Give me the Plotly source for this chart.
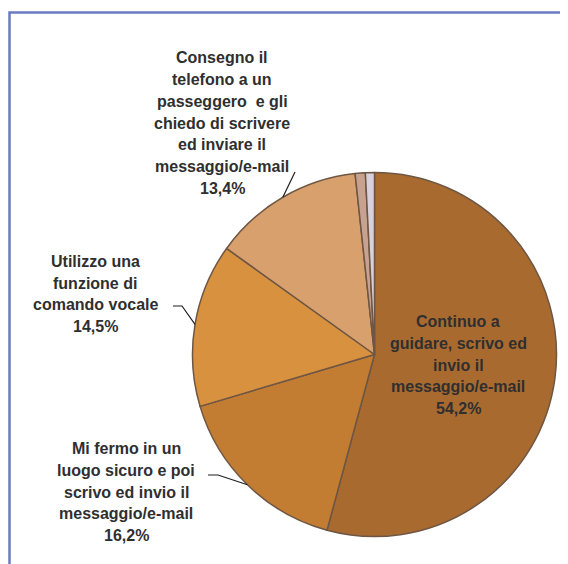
import math
import plotly.graph_objects as go

# ---- data ----
labels = [
    "Continuo a<br>guidare, scrivo ed<br>invio il<br>messaggio/e-mail",
    "Mi fermo in un<br>luogo sicuro e poi<br>scrivo ed invio il<br>messaggio/e-mail",
    "Utilizzo una<br>funzione di<br>comando vocale",
    "Consegno il<br>telefono a un<br>passeggero  e gli<br>chiedo di scrivere<br>ed inviare il<br>messaggio/e-mail",
    "Altro 1",
    "Altro 2",
]
values = [54.2, 16.2, 14.5, 13.4, 0.9, 0.8]
value_text = ["54,2%", "16,2%", "14,5%", "13,4%", "", ""]
colors = ["#A96A2F", "#C27D33", "#D8913F", "#D8A06C", "#C8A290", "#D8D0DA"]

OFF = 8  # page body margin
W, H = 568 - OFF, 564 - OFF
CX, CY, R = 374.5, 354.5, 182
LINE_H = 21.7

def px(x):
    return (x - OFF) / W

def py(y):
    return 1 - (y - OFF) / H

fig = go.Figure(go.Pie(
    values=values,
    labels=[f"s{i}" for i in range(len(values))],
    sort=False,
    direction="clockwise",
    rotation=0,
    textinfo="none",
    hoverinfo="skip",
    marker=dict(colors=colors, line=dict(color="#6e5644", width=1.5)),
    domain=dict(x=[px(CX - R), px(CX + R)], y=[py(CY + R), py(CY - R)]),
    showlegend=False,
))

# label placement (pixel centres) for the four main slices
label_pos = [(458, 365), (126, 492), (95, 294), (222, 123)]
font = dict(family="Liberation Sans, Arial, sans-serif", size=16, color="#2f2f2f", weight="bold")

annotations = []
for i in range(4):
    x, y = label_pos[i]
    lines = labels[i].split("<br>") + [value_text[i]]
    n = len(lines)
    for k, ln in enumerate(lines):
        yy = y + (k - (n - 1) / 2) * LINE_H
        annotations.append(dict(
            x=px(x), y=py(yy), xref="paper", yref="paper",
            text=ln,
            showarrow=False, xanchor="center", yanchor="middle", align="center",
            font=font,
        ))

# leader lines from slice mid-angle edge points
total = sum(values)
cum = 0
mids = []
for v in values:
    mids.append((cum + v / 2) / total * 360)
    cum += v

def edge(i):
    a = math.radians(mids[i])
    return CX + R * math.sin(a), CY - R * math.cos(a)

leader_paths = {
    1: [(218, 475), (208, 475)],
    2: [(182, 306), (173, 306)],
    3: [(295, 172)],
}
shapes = []
for i, pts in leader_paths.items():
    ex, ey = edge(i)
    allp = [(ex, ey)] + pts
    path = "M " + " L ".join(f"{px(x)},{py(y)}" for x, y in allp)
    shapes.append(dict(type="path", xref="paper", yref="paper", path=path,
                       line=dict(color="#1e1e1e", width=1.2)))

# frame
shapes.append(dict(type="rect", xref="paper", yref="paper",
                   x0=px(9.5), x1=1.3, y0=-0.3, y1=py(12.5),
                   line=dict(color="#6A7BC2", width=2.5), layer="below"))

fig.update_layout(
    width=W, height=H,
    margin=dict(l=0, r=0, t=0, b=0),
    paper_bgcolor="white", plot_bgcolor="white",
    annotations=annotations, shapes=shapes,
)
fig.write_html("out.html")
